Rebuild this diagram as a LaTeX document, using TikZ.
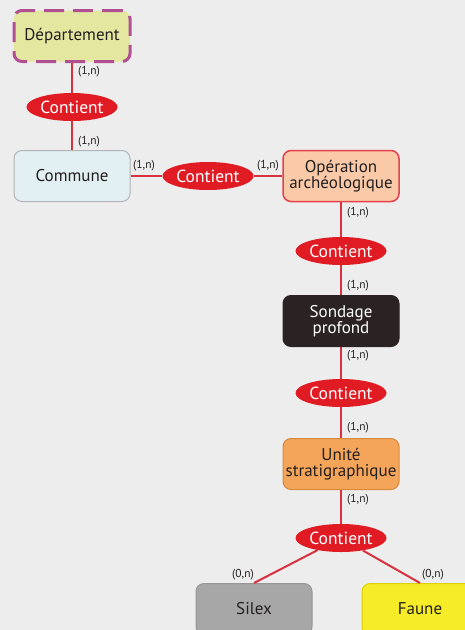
\documentclass[tikz,border=0pt]{standalone}
\usepackage{fontspec}
\setmainfont{PT Sans}
\usepackage{tikz}
\usetikzlibrary{positioning}
\usetikzlibrary{shapes.geometric}

\definecolor{fond}{HTML}{EDEDED}
\definecolor{rouge}{HTML}{E01B24}
\definecolor{trait}{HTML}{D8323F}
\definecolor{encre}{HTML}{231F20}

\begin{document}
\begin{tikzpicture}[
		x=1pt,y=-1pt,
		entite/.style={rectangle,rounded corners=8pt,minimum width=116pt,minimum height=51pt,
			inner xsep=0pt,align=center,font=\fontsize{17}{15.5}\selectfont,text=encre,line width=1pt},
		assoc/.style={ellipse,fill=rouge,text=white,minimum width=91pt,minimum height=28pt,
			inner sep=0pt,font=\fontsize{17.5}{18}\selectfont},
		card/.style={font=\fontsize{11.5}{12}\selectfont,text=encre,inner sep=1pt},
		lien/.style={draw=trait,line width=2pt}
		]
		\fill[fond] (0,0) rectangle (465,630);
		\clip (0,0) rectangle (465,630);
		% entites
		\node[entite,fill={rgb,255:red,228;green,231;blue,160},draw={rgb,255:red,176;green,80;blue,147},
			line width=3pt,dash pattern=on 20pt off 9pt] (dep) at (72,36) {Département};
		\node[entite,fill={rgb,255:red,227;green,240;blue,243},draw={rgb,255:red,180;green,180;blue,180}] (com) at (72,176) {Commune};
		\node[entite,fill={rgb,255:red,250;green,201;blue,167},draw={rgb,255:red,229;green,66;blue,77},line width=1.5pt] (ope) at (341,176) {Opération\\archéologique};
		\node[entite,fill={rgb,255:red,43;green,35;blue,35},draw={rgb,255:red,43;green,35;blue,35},text=white] (son) at (341,321) {Sondage\\profond};
		\node[entite,fill={rgb,255:red,244;green,165;blue,89},draw={rgb,255:red,214;green,138;blue,64}] (us) at (341,464) {Unité\\stratigraphique};
		\node[entite,fill={rgb,255:red,167;green,167;blue,167},draw={rgb,255:red,150;green,150;blue,150}] (sil) at (254,609) {Silex};
		\node[entite,fill={rgb,255:red,246;green,236;blue,40},draw={rgb,255:red,222;green,208;blue,0}] (fau) at (420,609) {Faune};
		% associations
		\node[assoc] (c1) at (72,107) {Contient};
		\node[assoc] (c2) at (208,176) {Contient};
		\node[assoc] (c3) at (341,251) {Contient};
		\node[assoc] (c4) at (341,393) {Contient};
		\node[assoc] (c5) at (341,538) {Contient};
		% liens
		\draw[lien] (dep) -- (c1);
		\draw[lien] (c1) -- (com);
		\draw[lien] (com) -- (c2);
		\draw[lien] (c2) -- (ope);
		\draw[lien] (ope) -- (c3);
		\draw[lien] (c3) -- (son);
		\draw[lien] (son) -- (c4);
		\draw[lien] (c4) -- (us);
		\draw[lien] (us) -- (c5);
		\draw[lien] (c5) -- (sil.north);
		\draw[lien] (c5) -- (fau.north);
		% cardinalites
		\node[card] (k1) at (89,72) {(1,n)};
		\node[card] (k2) at (89,142) {(1,n)};
		\node[card] (k3) at (144,166) {(1,n)};
		\node[card] (k4) at (268,166) {(1,n)};
		\node[card] (k5) at (358,213) {(1,n)};
		\node[card] (k6) at (358,286) {(1,n)};
		\node[card] (k7) at (358,356) {(1,n)};
		\node[card] (k8) at (358,428) {(1,n)};
		\node[card] (k9) at (358,500) {(1,n)};
		\node[card] (k10) at (243,575) {(0,n)};
		\node[card] (k11) at (433,575) {(0,n)};
	\end{tikzpicture}
\end{document}
